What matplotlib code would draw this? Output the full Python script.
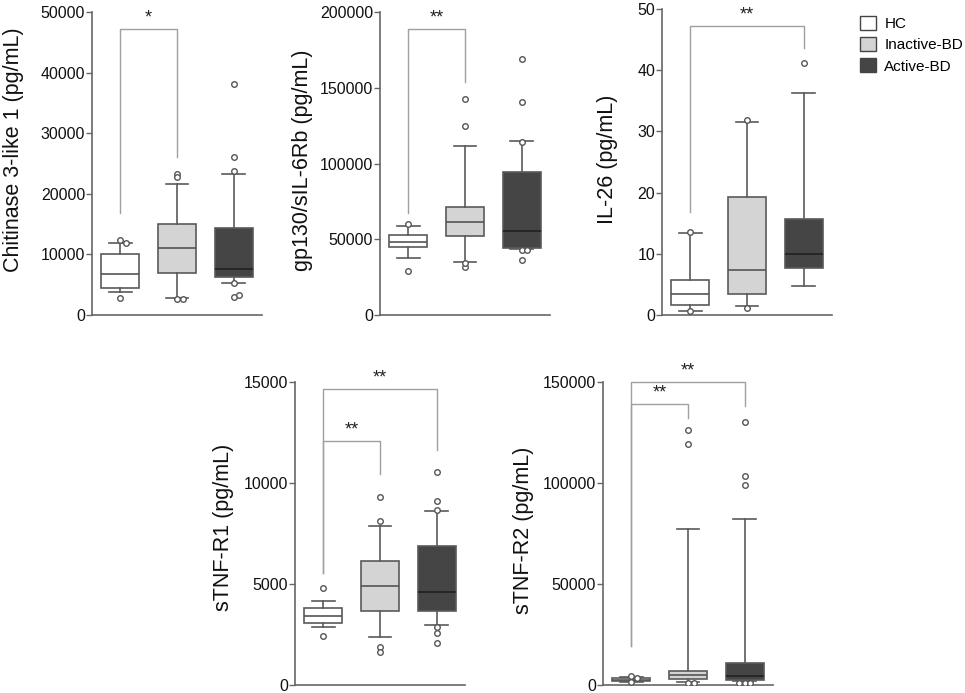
import matplotlib.pyplot as plt
from matplotlib.patches import Patch

plt.rcParams['font.family'] = ['Liberation Sans', 'DejaVu Sans']

groups = ['HC', 'Inactive-BD', 'Active-BD']
box_colors = ['#ffffff', '#d4d4d4', '#454545']
median_colors = ['#555555', '#555555', '#222222']
edge = '#5a5a5a'

# box stats per panel: (q1, median, q3, whisker low, whisker high), one row per group
chi_stats = [(4400, 6760, 10000, 3850, 11900),
             (6870, 11000, 15000, 2750, 21650),
             (6200, 7530, 14340, 5330, 23240)]
chi_fliers = [[12300, 11800, 2850], [23300, 22700, 2600, 2650], [38200, 26000, 23700, 5300, 2900, 3300]]

gp_stats = [(45050, 48350, 52500, 37360, 58680),
            (51870, 61540, 71430, 35160, 111400),
            (44400, 55600, 94290, 43300, 114700)]
gp_fliers = [[59800, 28800], [142600, 125000, 31900, 34300], [168800, 140900, 114500, 43000, 42600, 36300]]

il_stats = [(1.63, 3.43, 5.72, 0.71, 13.34),
            (3.38, 7.35, 19.28, 1.47, 31.6),
            (7.73, 9.97, 15.63, 4.74, 36.2)]
il_fliers = [[13.6, 0.6], [31.8, 1.2], [41.1]]

r1_stats = [(3082, 3412, 3791, 2851, 4154),
            (3676, 4896, 6132, 2390, 7863),
            (3676, 4615, 6873, 2950, 8604)]
r1_fliers = [[4780, 2420], [9310, 8110, 1900, 1615], [10550, 9130, 8650, 2885, 2590, 2060]]

r2_stats = [(2000, 2470, 3460, 1650, 3790),
            (2970, 4950, 6930, 1650, 77300),
            (2475, 4450, 10900, 2140, 82080)]
r2_fliers = [[4450, 3700, 1300], [126100, 119200, 1000, 1200], [130200, 103300, 98900, 1000, 1050, 1000]]

# significance brackets: (group a, group b, y of left leg start, y of bar, y of right leg end, label)
chi_sig = [(1, 2, 16760, 47250, 26000, '*')]
gp_sig = [(1, 2, 67000, 189000, 153800, '**')]
il_sig = [(1, 3, 16.8, 47.2, 43.7, '**')]
r1_sig = [(1, 2, 5520, 12080, 10470, '**'), (1, 3, 5520, 14670, 11650, '**')]
r2_sig = [(1, 2, 19300, 139300, 132300, '**'), (1, 3, 19300, 150000, 138000, '**')]

panels = [
    dict(pos=[92, 12, 170, 303], stats=chi_stats, fliers=chi_fliers, sig=chi_sig, ymax=50000,
         ticks=[0, 10000, 20000, 30000, 40000, 50000], label='Chitinase 3-like 1 (pg/mL)', lab=(-0.40, 0.547)),
    dict(pos=[380, 12, 170, 303], stats=gp_stats, fliers=gp_fliers, sig=gp_sig, ymax=200000,
         ticks=[0, 50000, 100000, 150000, 200000], label='gp130/sIL-6Rb (pg/mL)', lab=(-0.395, 0.51)),
    dict(pos=[662, 9, 170, 306], stats=il_stats, fliers=il_fliers, sig=il_sig, ymax=50,
         ticks=[0, 10, 20, 30, 40, 50], label='IL-26 (pg/mL)', lab=(-0.26, 0.51)),
    dict(pos=[295, 382, 170, 303], stats=r1_stats, fliers=r1_fliers, sig=r1_sig, ymax=15000,
         ticks=[0, 5000, 10000, 15000], label='sTNF-R1 (pg/mL)', lab=(-0.36, 0.52)),
    dict(pos=[603, 382, 170, 303], stats=r2_stats, fliers=r2_fliers, sig=r2_sig, ymax=150000,
         ticks=[0, 50000, 100000, 150000], label='sTNF-R2 (pg/mL)', lab=(-0.405, 0.51)),
]

W, H = 965, 693
fig = plt.figure(figsize=(W / 100, H / 100), dpi=100)

for p in panels:
    x0, top, w, h = p['pos']
    ax = fig.add_axes([x0 / W, 1 - (top + h) / H, w / W, h / H])
    bstats = []
    for (q1, med, q3, lo, hi) in p['stats']:
        bstats.append(dict(q1=q1, med=med, q3=q3, whislo=lo, whishi=hi, fliers=[]))
    bp = ax.bxp(bstats, positions=[1, 2, 3], widths=0.67, patch_artist=True, showfliers=False,
                boxprops=dict(edgecolor=edge, linewidth=1.2),
                whiskerprops=dict(color=edge, linewidth=1.2),
                capprops=dict(color=edge, linewidth=1.2),
                medianprops=dict(linewidth=1.2), capwidths=0.4)
    for i, box in enumerate(bp['boxes']):
        box.set_facecolor(box_colors[i])
        bp['medians'][i].set_color(median_colors[i])
    # outliers, nudged sideways when two lie close together
    span = p['ymax']
    for i, vals in enumerate(p['fliers']):
        xs = []
        placed = []
        for v in vals:
            n = sum(1 for u in placed if abs(u - v) < span * 0.012)
            xs.append(i + 1 + [0, 0.1, -0.1, 0.2][min(n, 3)])
            placed.append(v)
        ax.plot(xs, vals, 'o', ms=4, mfc='white', mec='#555555', mew=1, zorder=4)
    for (a, b, y0, ybar, y1, txt) in p['sig']:
        ax.plot([a, a, b, b], [y0, ybar, ybar, y1], color='#a0a0a0', lw=1, clip_on=False)
        ax.text((a + b) / 2, ybar + span * 0.008, txt, ha='center', va='bottom', fontsize=13,
                color='#222222')
    ax.set_xlim(0.5, 3.5)
    ax.set_ylim(0, p['ymax'])
    ax.set_yticks(p['ticks'])
    ax.set_xticks([])
    for s in ['top', 'right']:
        ax.spines[s].set_visible(False)
    for s in ['left', 'bottom']:
        ax.spines[s].set_color('#666666')
        ax.spines[s].set_linewidth(1.2)
    ax.tick_params(axis='y', length=4, width=1, color='#666666', labelsize=11.5, pad=1,
                   labelcolor='#111111')
    ax.set_ylabel(p['label'], fontsize=15.5, color='#111111')
    ax.yaxis.set_label_coords(*p['lab'])

handles = [Patch(facecolor=c, edgecolor='#444444', linewidth=1) for c in box_colors]
fig.legend(handles, groups, loc='upper left', bbox_to_anchor=(860 / W, 1 - 16 / H), frameon=False,
           fontsize=11, handlelength=1.05, handleheight=1.05, handletextpad=0.55, labelspacing=0.38,
           borderaxespad=0, borderpad=0)

fig.savefig('out.png', dpi=100)
